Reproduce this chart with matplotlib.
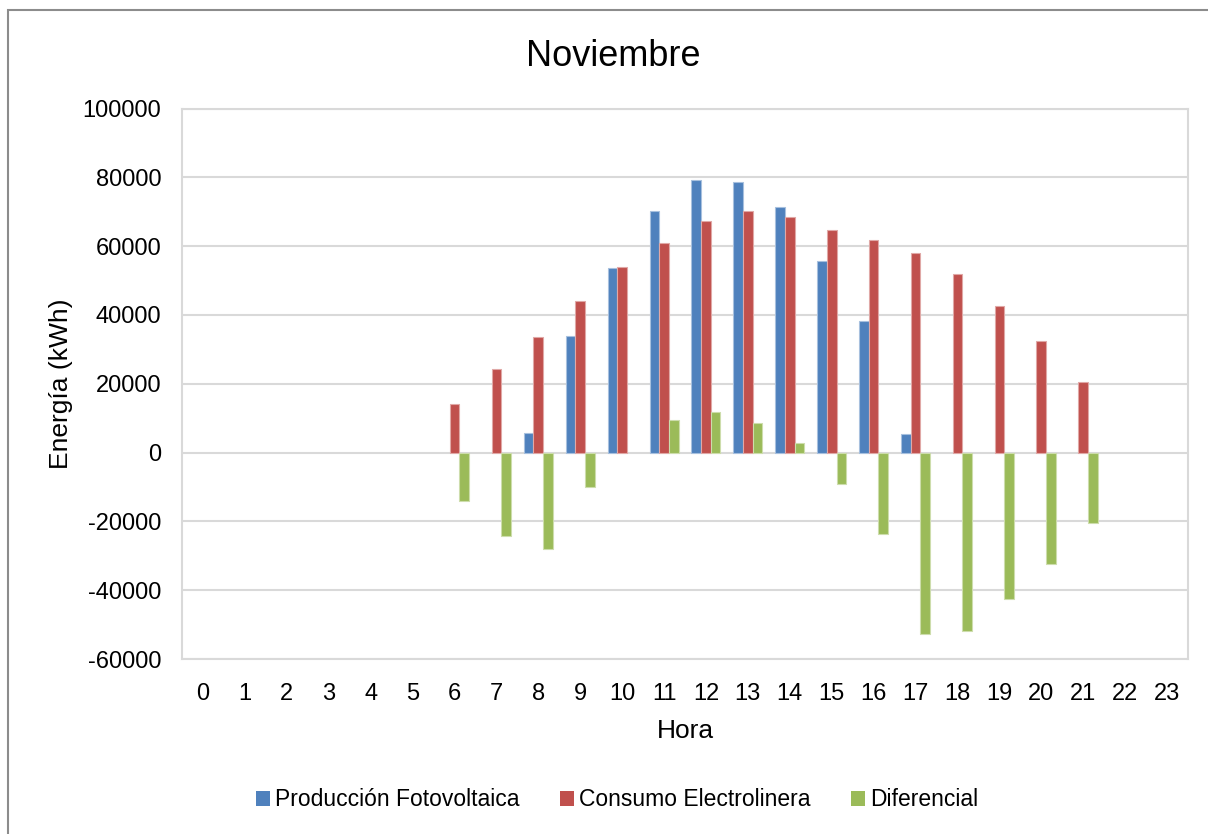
import matplotlib
matplotlib.use('Agg')
import matplotlib.pyplot as plt
from matplotlib.patches import Rectangle
import numpy as np

plt.rcParams['font.family'] = ['Liberation Sans', 'DejaVu Sans']
plt.rcParams['axes.unicode_minus'] = False

# Data (kWh per hour, November)
horas = list(range(24))
produccion = [0, 0, 0, 0, 0, 0, 0, 0, 5600, 34000, 53600, 70300, 79100, 78700,
              71300, 55800, 38100, 5300, 0, 0, 0, 0, 0, 0]
consumo = [0, 0, 0, 0, 0, 0, 14100, 24200, 33700, 44100, 53800, 60900, 67400, 70100,
           68600, 64800, 61900, 57900, 51800, 42700, 32400, 20600, 0, 0]
diferencial = [0, 0, 0, 0, 0, 0, -14100, -24200, -28100, -10100, -200, 9400, 11700, 8600,
               2700, -9000, -23800, -52600, -51800, -42700, -32400, -20600, 0, 0]

series = [
    ('Producción Fotovoltaica', produccion, '#4F81BD', '#A7C0DE'),
    ('Consumo Electrolinera', consumo, '#C0504D', '#E0A8A6'),
    ('Diferencial', diferencial, '#9BBB59', '#CDDDAC'),
]

W, H = 1208, 834
fig = plt.figure(figsize=(W / 100, H / 100), dpi=100)
fig.patch.set_facecolor('white')

# chart frame (grey border like the Excel chart area)
fig.add_artist(Rectangle((8 / W, -0.1), 1.2, 1.1 - 10 / H, transform=fig.transFigure,
                         fill=False, edgecolor='#8C8C8C', linewidth=1.5, clip_on=False))

ax = fig.add_axes([182 / W, 1 - 659 / H, (1188 - 182) / W, (659 - 108.5) / H])

x = np.arange(len(horas))
bw = 0.23
for i, (name, vals, color, edge) in enumerate(series):
    bars = ax.bar(x + (i - 1) * bw, vals, width=bw, color=color, edgecolor=edge,
                  linewidth=0.8, label=name, zorder=3)
    for b, v in zip(bars, vals):
        if abs(v) < 1000:
            b.set_linewidth(0)

ax.set_xlim(-0.5, 23.5)
ax.set_ylim(-60000, 100000)
ax.set_yticks(np.arange(-60000, 100001, 20000))
ax.set_xticks(x)
ax.set_xticklabels([str(h) for h in horas])
ax.tick_params(length=0, labelsize=17)
ax.tick_params(axis='x', pad=17)
ax.tick_params(axis='y', pad=15)
ax.grid(axis='y', color='#D9D9D9', linewidth=1.5, zorder=0)
for s in ax.spines.values():
    s.set_color('#D9D9D9')
    s.set_linewidth(1.5)

ax.set_xlabel('Hora', fontsize=19, labelpad=10)
ax.set_ylabel('Energía (kWh)', fontsize=19, labelpad=7)

fig.text(613 / W, 1 - 57 / H, 'Noviembre', fontsize=26, ha='center', va='center')

fig.legend(loc='center', bbox_to_anchor=(617 / W, 1 - 800 / H), ncol=3, frameon=False,
           fontsize=16.5, handlelength=0.6, handleheight=0.6, handletextpad=0.2,
           columnspacing=1.8)

fig.savefig('out.png', dpi=100, facecolor='white')
